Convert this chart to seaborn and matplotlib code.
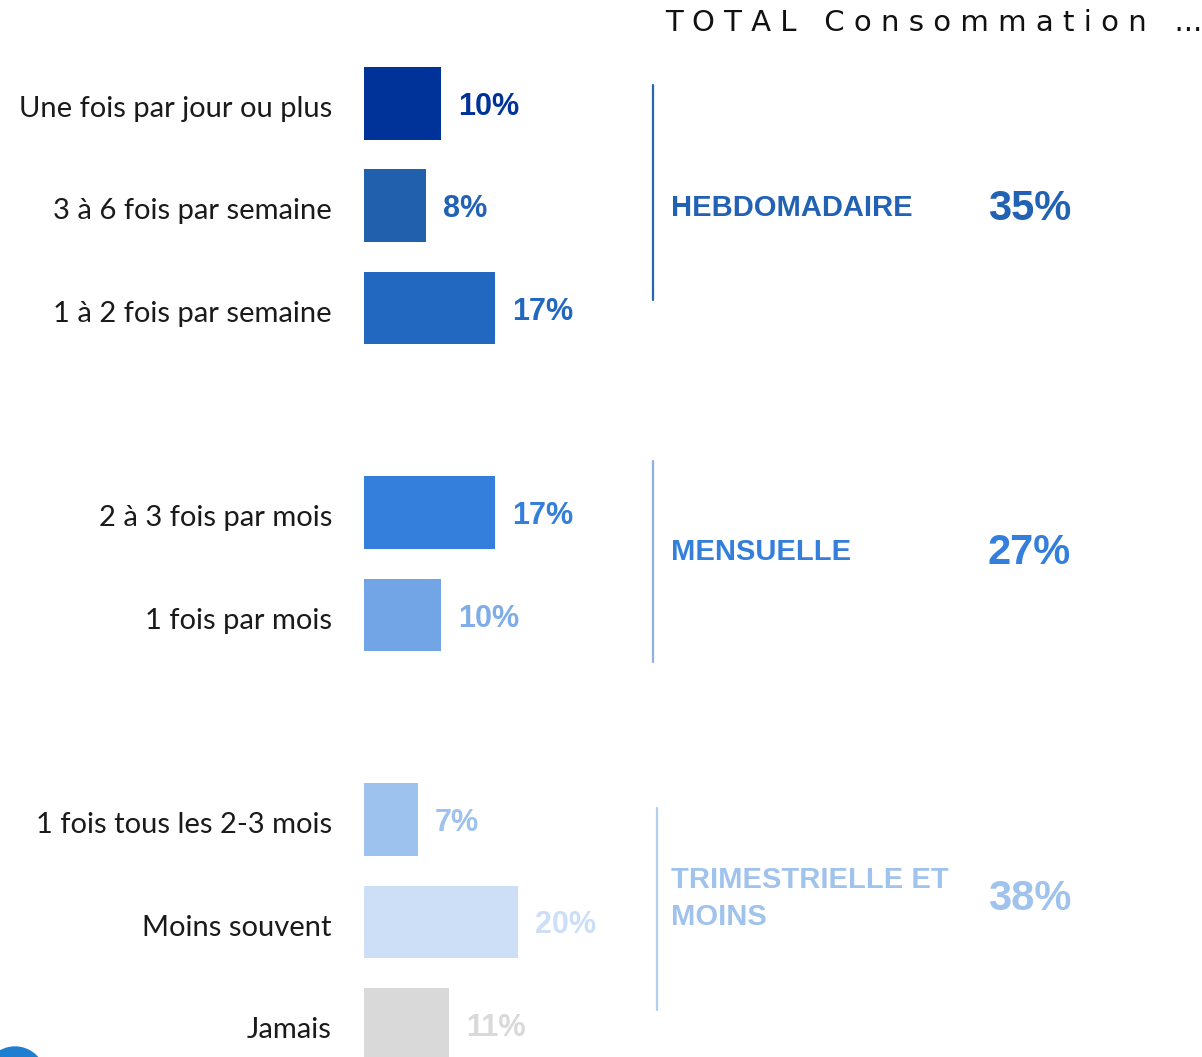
import numpy as np
import pandas as pd
import matplotlib.pyplot as plt
import matplotlib.patches as mpatches
import seaborn as sns

# Data
labels = [
    "Une fois par jour ou plus",
    "3 à 6 fois par semaine",
    "1 à 2 fois par semaine",
    "2 à 3 fois par mois",
    "1 fois par mois",
    "1 fois tous les 2-3 mois",
    "Moins souvent",
    "Jamais",
]
values = [10, 8, 17, 17, 10, 7, 20, 11]
rows = [0, 1, 2, 4, 5, 7, 8, 9]

bar_colors = ["#003399", "#2060AD", "#2368C0", "#337FDB",
              "#72A5E6", "#9DC2ED", "#CCDFF6", "#D9D9D9"]
label_colors = ["#003399", "#2262B5", "#2368C0", "#337FDB",
                "#7EADE8", "#9DC2ED", "#CCDFF6", "#D9D9D9"]

groups = ["HEBDOMADAIRE", "MENSUELLE", "TRIMESTRIELLE ET\nMOINS"]
group_totals = [35, 27, 38]
group_rows = [1.0, 4.36, 7.75]
group_colors = ["#2262B5", "#337FDB", "#A0C3EE"]
group_line_colors = ["#2B63B5", "#8DB2E2", "#B4CFF0"]
group_line_spans = [(-0.18, 1.92), (3.49, 5.46), (6.89, 8.86)]
group_line_x = [37.5, 37.5, 38.0]

title = "T O T A L   C o n s o m m a t i o n   ..."

df = pd.DataFrame({"label": labels, "value": values, "row": rows})

sns.set_theme(style="white")
plt.rcParams["font.family"] = ["DejaVu Sans"]

W, H = 1202, 1057
fig = plt.figure(figsize=(W / 100, H / 100), dpi=100)
px = 7.7        # pixels per percent
x0 = 364        # left edge of bars
row_h = 102.3
top_row_y = 103.5

ax = fig.add_axes([x0 / W, 0, (px * 100) / W, 1])

sns.barplot(
    data=df, x="value", y="row", hue="label",
    palette=dict(zip(labels, bar_colors)),
    orient="y", native_scale=True, width=0.71,
    dodge=False, legend=False, errorbar=None,
    saturation=1, linewidth=0, ax=ax,
)

ax.set_xlim(0, 100)
ax.set_ylim((H - top_row_y) / row_h, -top_row_y / row_h)
ax.axis("off")

# category labels and values
for lab, val, r, c in zip(labels, values, rows, label_colors):
    ax.text(-4.16, r + 0.055, lab, ha="right", va="center",
            fontsize=21, color="#1a1a1a", family="Lato", clip_on=False)
    ax.text(val + 2.2, r + 0.035, f"{val}%", ha="left", va="center",
            fontsize=22, fontweight="bold", color=c,
            family="Liberation Sans", clip_on=False)

# group brackets
for g, tot, gr, gc, lc, (y1, y2), lx in zip(groups, group_totals, group_rows,
                                             group_colors, group_line_colors,
                                             group_line_spans, group_line_x):
    ax.plot([lx, lx], [y1, y2], color=lc, lw=1.6, clip_on=False)
    ax.text(39.9, gr + 0.02, g, ha="left", va="center", fontsize=21,
            fontweight="bold", color=gc, family="Liberation Sans",
            linespacing=1.4, clip_on=False)
    ax.text(81.0, gr + 0.03, f"{tot}%", ha="left", va="center", fontsize=30,
            fontweight="bold", color=gc, family="Liberation Sans",
            clip_on=False)

# title
fig.text(665 / W, 1 - 23 / H, title, ha="left", va="center",
         fontsize=21, color="#111111", family="DejaVu Sans")

# logo fragment in the corner
circ = mpatches.Circle((15, -20), 30, transform=None, color="#1E7FD0")
fig.patches.append(circ)

fig.savefig("out.png", dpi=100)
